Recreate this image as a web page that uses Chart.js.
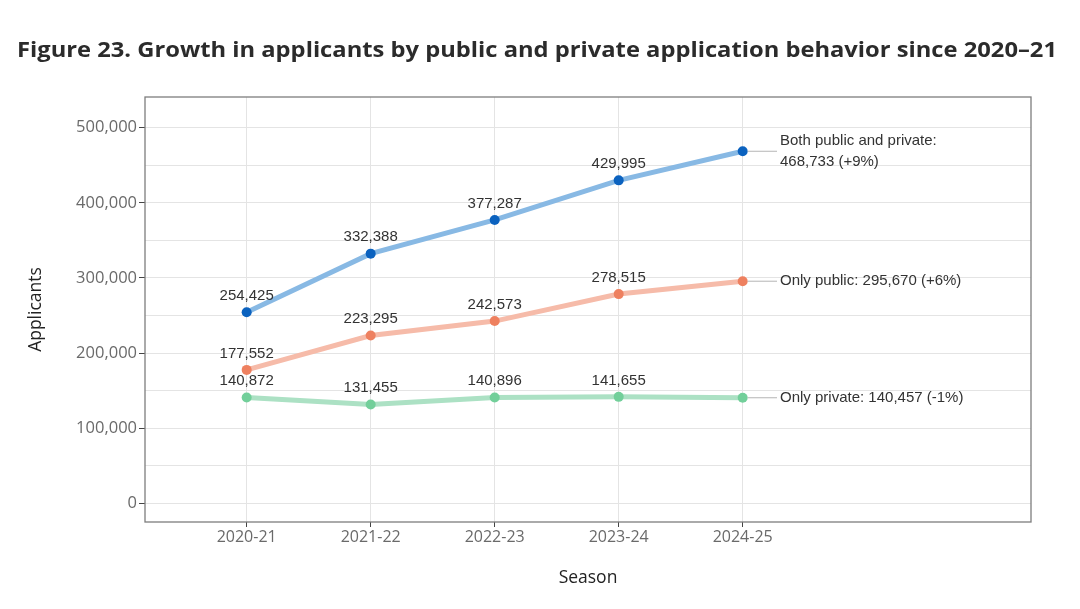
<!DOCTYPE html>
<html lang="en">
<head>
    <meta charset="UTF-8" />
    <title>Figure 23</title>
    <script src="https://cdn.jsdelivr.net/npm/chart.js"></script>
    <style>
        html, body { margin: 0; padding: 0; background: #fff; }
        #wrap { width: 1080px; height: 609px; position: relative; }
    </style>
</head>
<body>
    <div id="wrap"><canvas id="growthChart" width="1080" height="609"></canvas></div>
    <script>
        const titleText = 'Figure 23. Growth in applicants by public and private application behavior since 2020\u201321';
        const seasons = ['2020-21', '2021-22', '2022-23', '2023-24', '2024-25'];
        const bothApplicants = [254425, 332388, 377287, 429995, 468733];
        const publicOnly = [177552, 223295, 242573, 278515, 295670];
        const privateOnly = [140872, 131455, 140896, 141655, 140457];
        const seriesNames = ['Both public and private:', 'Only public:', 'Only private:'];
        const lastYearChange = ['+9%', '+6%', '-1%'];
        const yTicks = [0, 50000, 100000, 150000, 200000, 250000, 300000, 350000, 400000, 450000, 500000];

        const fmt = v => v.toLocaleString('en-US');
        const toPoints = arr => arr.map((v, i) => ({ x: i, y: v }));

        // labels over points, connectors + end notes, frame and title
        const annotate = {
            id: 'annotate',
            beforeDraw(chart) {
                const ctx = chart.ctx;
                ctx.save();
                ctx.fillStyle = '#2b2b2b';
                ctx.font = '700 22px "Open Sans", sans-serif';
                ctx.textBaseline = 'middle';
                // stretch to the reference width
                const w = ctx.measureText(titleText).width;
                ctx.translate(17, 51);
                ctx.scale(1040 / w, 1);
                ctx.fillText(titleText, 0, 0);
                ctx.restore();
            },
            afterDatasetsDraw(chart) {
                const ctx = chart.ctx;
                const last = seasons.length - 1;
                ctx.save();
                ctx.font = '15px "Liberation Sans", Arial, sans-serif';
                ctx.fillStyle = '#333';
                ctx.textBaseline = 'middle';
                chart.data.datasets.forEach((ds, di) => {
                    const meta = chart.getDatasetMeta(di);
                    meta.data.forEach((pt, i) => {
                        if (i === last) return;
                        ctx.textAlign = 'center';
                        ctx.fillText(fmt(ds.data[i].y), pt.x, pt.y - 16.5);
                    });
                    const end = meta.data[last];
                    ctx.strokeStyle = '#b5b5b5';
                    ctx.lineWidth = 1;
                    ctx.beginPath();
                    ctx.moveTo(end.x + 5, end.y);
                    ctx.lineTo(777, end.y);
                    ctx.stroke();
                    ctx.textAlign = 'left';
                    const valText = fmt(ds.data[last].y) + ' (' + lastYearChange[di] + ')';
                    if (di === 0) {
                        ctx.fillText(seriesNames[di], 780, end.y - 10.5);
                        ctx.fillText(valText, 780, end.y + 11);
                    } else {
                        ctx.fillText(seriesNames[di] + ' ' + valText, 780, end.y);
                    }
                });
                ctx.restore();
            },
            afterDraw(chart) {
                const a = chart.chartArea;
                const ctx = chart.ctx;
                ctx.save();
                ctx.strokeStyle = '#7d7d7d';
                ctx.lineWidth = 1.3;
                ctx.strokeRect(a.left, a.top, a.right - a.left, a.bottom - a.top);
                ctx.restore();
            }
        };

        const ctx = document.getElementById('growthChart').getContext('2d');
        new Chart(ctx, {
            type: 'line',
            data: {
                datasets: [
                    {
                        label: seriesNames[0],
                        data: toPoints(bothApplicants),
                        borderColor: '#88b9e4',
                        pointBackgroundColor: '#0b62bf',
                        pointBorderColor: '#0b62bf',
                        borderWidth: 5,
                        pointRadius: 5,
                        pointBorderWidth: 0
                    },
                    {
                        label: seriesNames[1],
                        data: toPoints(publicOnly),
                        borderColor: '#f6bba9',
                        pointBackgroundColor: '#ee805f',
                        pointBorderColor: '#ee805f',
                        borderWidth: 5,
                        pointRadius: 5,
                        pointBorderWidth: 0
                    },
                    {
                        label: seriesNames[2],
                        data: toPoints(privateOnly),
                        borderColor: '#ace1c4',
                        pointBackgroundColor: '#72cf9a',
                        pointBorderColor: '#72cf9a',
                        borderWidth: 5,
                        pointRadius: 5,
                        pointBorderWidth: 0
                    }
                ]
            },
            options: {
                responsive: false,
                animation: false,
                layout: { padding: { top: 97, right: 49, bottom: 0, left: 0 } },
                plugins: {
                    legend: { display: false },
                    tooltip: { enabled: false }
                },
                scales: {
                    x: {
                        type: 'linear',
                        min: -0.82,
                        max: 6.325,
                        afterBuildTicks: s => { s.ticks = seasons.map((_, i) => ({ value: i })); },
                        afterFit: s => { s.height = 87; },
                        ticks: {
                            callback: v => seasons[v],
                            color: '#6a6a6a',
                            font: { family: '"Open Sans", sans-serif', size: 16 },
                            padding: 1,
                            maxRotation: 0
                        },
                        grid: { color: '#e4e4e4', tickColor: '#444', tickLength: 5 },
                        border: { display: false },
                        title: {
                            display: true,
                            text: 'Season',
                            color: '#222',
                            font: { family: '"Open Sans", sans-serif', size: 17.5 },
                            padding: { top: 0, bottom: 20 }
                        }
                    },
                    y: {
                        min: -25000,
                        max: 541000,
                        afterBuildTicks: s => { s.ticks = yTicks.map(v => ({ value: v })); },
                        afterFit: s => { s.width = 145; },
                        ticks: {
                            callback: v => (v % 100000 === 0 ? fmt(v) : ''),
                            color: '#6a6a6a',
                            font: { family: '"Open Sans", sans-serif', size: 16.5 },
                            padding: 2
                        },
                        grid: {
                            color: '#e4e4e4',
                            tickColor: c => (c.tick && c.tick.value % 100000 === 0 ? '#444' : 'rgba(0,0,0,0)'),
                            tickLength: 6
                        },
                        border: { display: false },
                        title: {
                            display: true,
                            text: 'Applicants',
                            color: '#222',
                            font: { family: '"Open Sans", sans-serif', size: 17.5 },
                            padding: { top: 26, bottom: 0 }
                        }
                    }
                }
            },
            plugins: [annotate]
        });
    </script>
</body>
</html>
